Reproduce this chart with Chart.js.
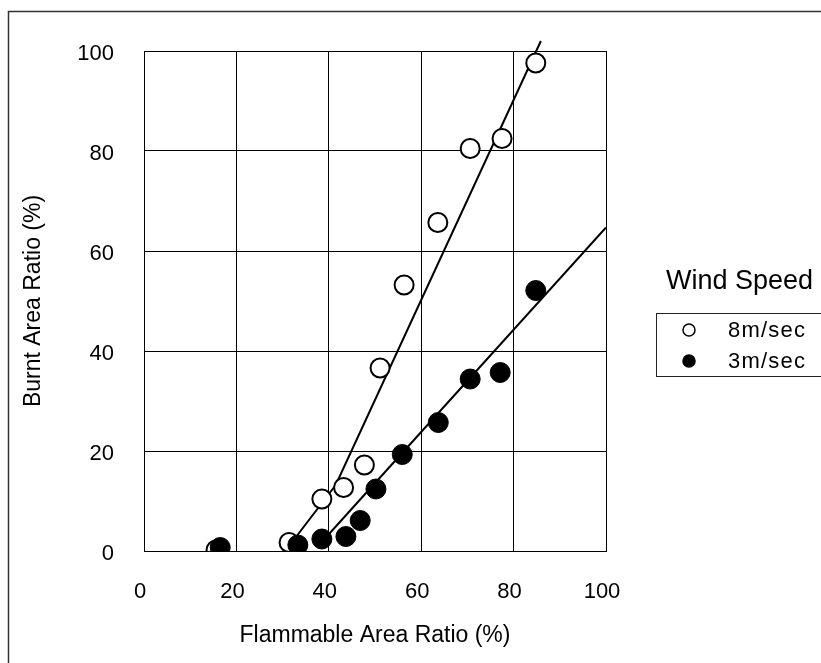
<!DOCTYPE html>
<html>
<head>
<meta charset="utf-8">
<title>Burnt vs Flammable Area Ratio</title>
<script src="https://cdn.jsdelivr.net/npm/chart.js@4/dist/chart.umd.min.js"></script>
<style>
  html, body { margin: 0; padding: 0; background: #fff; }
  canvas { display: block; }
</style>
</head>
<body>
<canvas id="chart" width="821" height="663"></canvas>
<script>
// Values (x = flammable %, y = burnt %).
const seriesLabels = ["8m/sec", "3m/sec"];
const legendTitle = "Wind Speed";
const xTitle = "Flammable Area Ratio (%)";
const yTitle = "Burnt Area Ratio (%)";
const tickValues = [0, 20, 40, 60, 80, 100];

const wind8X = [15.6, 31.4, 38.5, 43.2, 47.7, 51.1, 56.3, 63.6, 70.6, 77.5, 84.8];
const wind8Y = [0.2, 1.7, 10.4, 12.7, 17.2, 36.6, 53.2, 65.7, 80.5, 82.5, 97.6];
const wind3X = [16.5, 33.3, 38.5, 43.7, 46.8, 50.2, 55.9, 63.7, 70.6, 77.1, 84.8];
const wind3Y = [0.7, 1.2, 2.4, 2.9, 6.1, 12.4, 19.3, 25.7, 34.4, 35.7, 52.1];

// hand-drawn trend lines as they appear in the figure
const fit8X = [31.4, 41.5, 85.9];
const fit8Y = [1.0, 13.2, 102];
const fit3X = [37.5, 100];
const fit3Y = [0.8, 64.7];

const FONT = "'Liberation Sans', Arial, sans-serif";
const pts = (xs, ys) => xs.map((x, i) => ({ x, y: ys[i] }));

// outer frame + boxed legend on the right, drawn after the chart
const frameAndLegend = {
  id: "frameAndLegend",
  afterDraw(chart) {
    const ctx = chart.ctx;
    ctx.save();
    ctx.strokeStyle = "#333";
    ctx.lineWidth = 1.5;
    ctx.strokeRect(8.5, 11.5, 900, 900);

    ctx.fillStyle = "#000";
    ctx.font = `27px ${FONT}`;
    ctx.textBaseline = "middle";
    ctx.textAlign = "left";
    ctx.fillText(legendTitle, 666, 282);

    ctx.strokeStyle = "#222";
    ctx.lineWidth = 1;
    ctx.strokeRect(656.5, 313.5, 200, 63);

    const rows = [chart.data.datasets[1], chart.data.datasets[0]];
    ctx.font = `22px ${FONT}`;
    ctx.letterSpacing = "1.2px";
    rows.forEach((ds, i) => {
      const cy = 330 + i * 31;
      ctx.beginPath();
      ctx.arc(689, cy, 6, 0, Math.PI * 2);
      ctx.fillStyle = ds.backgroundColor;
      ctx.fill();
      ctx.lineWidth = 1.5;
      ctx.strokeStyle = "#000";
      ctx.stroke();
      ctx.fillStyle = "#000";
      ctx.fillText(ds.label, 728, cy + 1);
    });
    ctx.restore();
  }
};

const axisCommon = {
  type: "linear",
  min: 0,
  max: 100,
  grid: { color: "#000", lineWidth: 1, drawTicks: false },
  border: { color: "#000", width: 1 },
};

new Chart(document.getElementById("chart"), {
  type: "scatter",
  data: {
    datasets: [
      {
        label: seriesLabels[1], data: pts(wind3X, wind3Y), order: 0,
        pointRadius: 10, backgroundColor: "#000", borderColor: "#000", borderWidth: 1
      },
      {
        label: seriesLabels[0], data: pts(wind8X, wind8Y), order: 1,
        pointRadius: 9.5, backgroundColor: "#fff", borderColor: "#000", borderWidth: 2
      },
      {
        label: "fit 8", data: pts(fit8X, fit8Y), order: 2, showLine: true,
        pointRadius: 0, borderColor: "#000", borderWidth: 2, clip: { left: 0, right: 0, top: 20, bottom: 0 }
      },
      {
        label: "fit 3", data: pts(fit3X, fit3Y), order: 3, showLine: true,
        pointRadius: 0, borderColor: "#000", borderWidth: 2
      }
    ]
  },
  options: {
    responsive: false,
    animation: false,
    layout: { padding: { left: 0, top: 51, right: 215, bottom: 0 } },
    plugins: { legend: { display: false }, tooltip: { enabled: false } },
    scales: {
      x: {
        ...axisCommon,
        position: "bottom",
        afterFit: s => { s.height = 112; },
        afterBuildTicks: s => { s.ticks = tickValues.map(v => ({ value: v })); },
        ticks: { padding: 28, labelOffset: -4, color: "#000", font: { family: FONT, size: 22 } },
        title: { display: true, text: xTitle, color: "#000", font: { family: FONT, size: 23 }, padding: { top: 14, bottom: 14 } }
      },
      y: {
        ...axisCommon,
        position: "left",
        afterFit: s => { s.width = 144; },
        afterBuildTicks: s => { s.ticks = tickValues.map(v => ({ value: v })); },
        ticks: { padding: 30, labelOffset: 3, color: "#000", font: { family: FONT, size: 22 } },
        title: { display: true, text: yTitle, color: "#000", font: { family: FONT, size: 23 }, padding: { top: 20, bottom: 20 } }
      }
    }
  },
  plugins: [frameAndLegend]
});
</script>
</body>
</html>
